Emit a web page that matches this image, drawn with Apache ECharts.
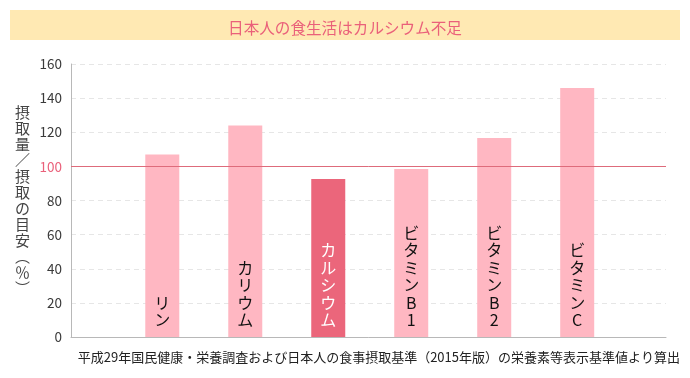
<!DOCTYPE html>
<html><head><meta charset="utf-8">
<script src="https://cdn.jsdelivr.net/npm/echarts@6/dist/echarts.min.js"></script>
<style>html,body{margin:0;padding:0;background:#fff}#c{width:690px;height:378px}</style>
</head><body><div id="c"></div>
<script>
const titleText = '日本人の食生活はカルシウム不足';
const footnote = '平成29年国民健康・栄養調査および日本人の食事摂取基準（2015年版）の栄養素等表示基準値より算出';
const yAxisName = '摂取量／摂取の目安︵％︶';
const categories = ['リン', 'カリウム', 'カルシウム', 'ビタミンB1', 'ビタミンB2', 'ビタミンC'];
const values = [107, 124, 92.6, 98.5, 116.6, 146];
const highlight = 'カルシウム';
const yTicks = { min: 0, max: 160, interval: 20 };
const refValue = 100;

const FONT = '"Noto Sans CJK JP", "Noto Sans", sans-serif';
const chart = echarts.init(document.getElementById('c'), null, { renderer: 'canvas' });
chart.setOption({
  animation: false,
  backgroundColor: '#fff',
  title: {
    text: titleText, left: 'center', top: 15,
    textStyle: { color: '#ea607a', fontSize: 15.6, fontWeight: 'normal', fontFamily: FONT }
  },
  graphic: [
    { type: 'rect', z: -10, shape: { x: 10, y: 10, width: 670, height: 30 }, style: { fill: '#ffe9b3' } },
    { type: 'text', x: 680, y: 357, style: { text: footnote, align: 'right', verticalAlign: 'middle', fontSize: 13, fill: '#222', fontFamily: FONT } }
  ],
  grid: { left: 71, right: 24, top: 64, bottom: 41 },
  xAxis: {
    type: 'value', min: -1.1, max: 6.07,
    axisLine: { show: true, onZero: false, lineStyle: { color: '#b8b8b8', width: 1 } },
    axisTick: { show: false }, axisLabel: { show: false }, splitLine: { show: false }
  },
  yAxis: {
    type: 'value', min: yTicks.min, max: yTicks.max, interval: yTicks.interval,
    name: yAxisName.split('').join('\n'),
    nameLocation: 'middle', nameRotate: 0, nameGap: 41,
    nameTextStyle: { fontSize: 15, lineHeight: 16, color: '#444', fontFamily: FONT },
    axisLine: { show: true, onZero: false, lineStyle: { color: '#b8b8b8', width: 1 } },
    axisTick: { show: false },
    axisLabel: {
      margin: 9, fontSize: 13.5, fontFamily: FONT,
      color: v => (Number(v) === refValue ? '#ea607a' : '#3a3a3a')
    },
    splitLine: { show: true, lineStyle: { color: '#e6e6e6', type: [5, 4], width: 1 } }
  },
  series: [{
    type: 'bar', barWidth: 34,
    data: categories.map((c, i) => ({
      value: [i, values[i]], name: c,
      itemStyle: { color: c === highlight ? '#eb667b' : '#ffb7c2' },
      label: { color: c === highlight ? '#fff' : '#111' }
    })),
    label: {
      show: true, position: 'insideBottom', distance: 8,
      fontSize: 16, lineHeight: 17.5, fontFamily: FONT,
      formatter: p => p.name.split('').join('\n')
    },
    markLine: {
      silent: true, symbol: 'none', label: { show: false },
      lineStyle: { color: '#de6b7b', type: 'solid', width: 1 },
      data: [{ yAxis: refValue }]
    }
  }]
});
</script></body></html>
